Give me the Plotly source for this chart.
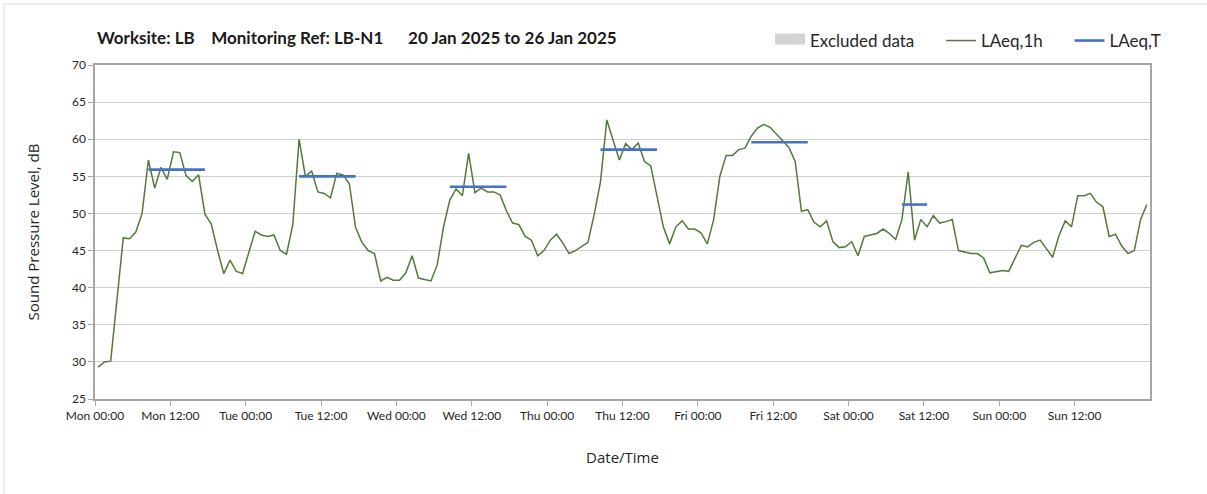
import pandas as pd
import plotly.graph_objects as go

# ---------------- data ----------------
start_time = "2025-01-20 00:00"

# Hourly LAeq,1h values (dB), Mon 00:00 .. Sun 23:00 (168 hours)
laeq_1h = [
    29.3, 30.0, 30.1, 38.4, 46.7, 46.6, 47.5, 50.0, 57.2, 53.4, 56.2, 54.6,
    58.3, 58.2, 55.1, 54.3, 55.2, 49.9, 48.6, 45.1, 41.9, 43.7, 42.2, 41.9,
    44.6, 47.6, 47.1, 46.9, 47.1, 45.0, 44.5, 48.5, 60.0, 55.0, 55.7, 52.9,
    52.7, 52.1, 55.4, 55.2, 54.0, 48.1, 46.1, 45.0, 44.6, 40.9, 41.4, 41.0,
    41.0, 42.0, 44.3, 41.3, 41.1, 40.9, 43.1, 48.2, 51.8, 53.3, 52.4, 58.1,
    52.8, 53.4, 52.9, 52.9, 52.5, 50.4, 48.7, 48.5, 46.9, 46.4, 44.3, 45.0,
    46.4, 47.2, 46.0, 44.6, 45.0, 45.5, 46.1, 49.9, 54.3, 62.6, 59.9, 57.2,
    59.4, 58.6, 59.5, 57.0, 56.4, 52.3, 48.2, 45.9, 48.2, 49.0, 47.9, 47.9,
    47.4, 45.9, 49.1, 55.0, 57.8, 57.8, 58.6, 58.8, 60.4, 61.5, 62.0, 61.6,
    60.7, 59.7, 58.9, 57.0, 50.3, 50.5, 48.8, 48.2, 49.0, 46.2, 45.4, 45.5,
    46.2, 44.3, 46.9, 47.1, 47.3, 47.9, 47.3, 46.5, 49.2, 55.6, 46.4, 49.2,
    48.2, 49.7, 48.7, 48.9, 49.2, 45.0, 44.8, 44.6, 44.6, 44.0, 42.0, 42.1,
    42.3, 42.2, 44.0, 45.7, 45.5, 46.1, 46.4, 45.2, 44.1, 47.0, 49.0, 48.2,
    52.4, 52.4, 52.7, 51.5, 50.9, 46.9, 47.2, 45.6, 44.6, 45.0, 49.2, 51.2,
]

# LAeq,T assessment periods (start, end) and values (dB)
laeq_t_start = ["2025-01-20 08:00", "2025-01-21 08:00", "2025-01-22 08:00",
                "2025-01-23 08:00", "2025-01-24 08:00", "2025-01-25 08:00"]
laeq_t_end = ["2025-01-20 18:00", "2025-01-21 18:00", "2025-01-22 18:00",
              "2025-01-23 18:00", "2025-01-24 18:00", "2025-01-25 13:00"]
laeq_t_values = [55.9, 55.0, 53.6, 58.6, 59.6, 51.2]

# Excluded data periods (none in this week)
excluded_start = []
excluded_end = []

# axis settings
y_min, y_max, y_step = 25, 70, 5
tick_hours = 12
grid_hours = 24
n_days = 7

# ---------------- build ----------------
t0 = pd.Timestamp(start_time)
half = pd.Timedelta(minutes=30)
hour_mid = [t0 + pd.Timedelta(hours=i) + half for i in range(len(laeq_1h))]

t_x, t_y = [], []
for s, e, v in zip(laeq_t_start, laeq_t_end, laeq_t_values):
    t_x += [pd.Timestamp(s) + half, pd.Timestamp(e) - half, None]
    t_y += [v, v, None]

ex_x, ex_y = [], []
for s, e in zip(excluded_start, excluded_end):
    ex_x += [s, s, e, e, s, None]
    ex_y += [y_min, y_max, y_max, y_min, y_min, None]
if not ex_x:  # keep the legend entry even when nothing is excluded
    ex_x, ex_y = [None], [None]

t_end = t0 + pd.Timedelta(days=n_days)
tick_vals = list(pd.date_range(t0, t_end - pd.Timedelta(hours=tick_hours), freq=f"{tick_hours}h"))
tick_text = [t.strftime("%a %H:%M") for t in tick_vals]
grid_vals = list(pd.date_range(t0, t_end, freq=f"{grid_hours}h"))

font_main = "Lato, 'Open Sans', sans-serif"
font_axis = "'Open Sans', 'Noto Sans', sans-serif"
gap = "&nbsp;" * 5

fig = go.Figure()
fig.add_trace(go.Scatter(
    x=ex_x, y=ex_y, name="Excluded data" + gap, mode="lines", fill="toself",
    fillcolor="#d4d4d4", line=dict(color="#d4d4d4", width=12), showlegend=True))
fig.add_trace(go.Scatter(
    x=hour_mid, y=laeq_1h, name="LAeq,1h" + gap, mode="lines",
    line=dict(color="#537a3a", width=1.5)))
fig.add_trace(go.Scatter(
    x=t_x, y=t_y, name="LAeq,T", mode="lines",
    line=dict(color="#4472c4", width=2.6)))

L, R, T, B = 95, 57, 65, 95
W, H = 1207, 494
pw, ph = W - L - R, H - T - B

def px_x(px):
    return (px - L) / pw

def px_y(py):
    return (H - B - py) / ph

fig.update_layout(
    width=W, height=H,
    margin=dict(l=L, r=R, t=T, b=B, autoexpand=False),
    paper_bgcolor="white", plot_bgcolor="white",
    font=dict(family=font_main, color="#262626"),
    showlegend=True,
    legend=dict(orientation="h", xref="container", yref="container",
                x=1166 / W, xanchor="right",
                y=1 - 41 / H, yanchor="middle",
                font=dict(family=font_main, size=17, color="#262626"),
                itemwidth=30, tracegroupgap=0, bgcolor="rgba(0,0,0,0)"),
    xaxis=dict(
        type="date", range=[t0, t_end], automargin=False,
        tickmode="array", tickvals=tick_vals, ticktext=tick_text,
        showgrid=False, zeroline=False,
        showline=True, linecolor="#a6a6a6", linewidth=1.5, mirror=True,
        ticks="outside", ticklen=5, tickcolor="#a6a6a6",
        tickfont=dict(family=font_main, size=12, color="#262626"),
        title=dict(text="Date/Time", font=dict(family=font_axis, size=15, color="#262626"),
                   standoff=30),
    ),
    xaxis2=dict(
        type="date", range=[t0, t_end], overlaying="x", side="bottom",
        tickmode="array", tickvals=grid_vals, showticklabels=False,
        showgrid=True, gridcolor="#d9d9d9", gridwidth=1, ticks="",
        showline=False, zeroline=False, automargin=False,
    ),
    yaxis=dict(
        range=[y_min, y_max], dtick=y_step, tick0=y_min, automargin=False,
        showgrid=True, gridcolor="#cfcfcf", gridwidth=1.2, zeroline=False,
        showline=True, linecolor="#a6a6a6", linewidth=1.5, mirror=True,
        ticks="outside", ticklen=5, tickcolor="#a6a6a6",
        tickfont=dict(family=font_main, size=12, color="#262626"),
        title=dict(text="Sound Pressure Level, dB",
                   font=dict(family=font_axis, size=15, color="#262626"),
                   standoff=29),
    ),
    annotations=[dict(
        text="<b>Worksite: LB&nbsp;&nbsp;&nbsp;&nbsp;Monitoring Ref: LB-N1&nbsp;&nbsp;&nbsp;&nbsp;&nbsp;&nbsp;20 Jan 2025 to 26 Jan 2025</b>",
        xref="paper", yref="paper", x=px_x(95), y=px_y(37),
        xanchor="left", yanchor="middle", showarrow=False,
        font=dict(family=font_main, size=17, color="#1a1a1a"))],
    shapes=[dict(type="rect", xref="paper", yref="paper",
                 x0=px_x(4), x1=px_x(1260), y0=px_y(560), y1=px_y(4),
                 line=dict(color="#d9d9d9", width=1), layer="below")],
)

fig.write_html("out.html", config={"displayModeBar": False},
               post_script="document.body.style.margin='0';")
